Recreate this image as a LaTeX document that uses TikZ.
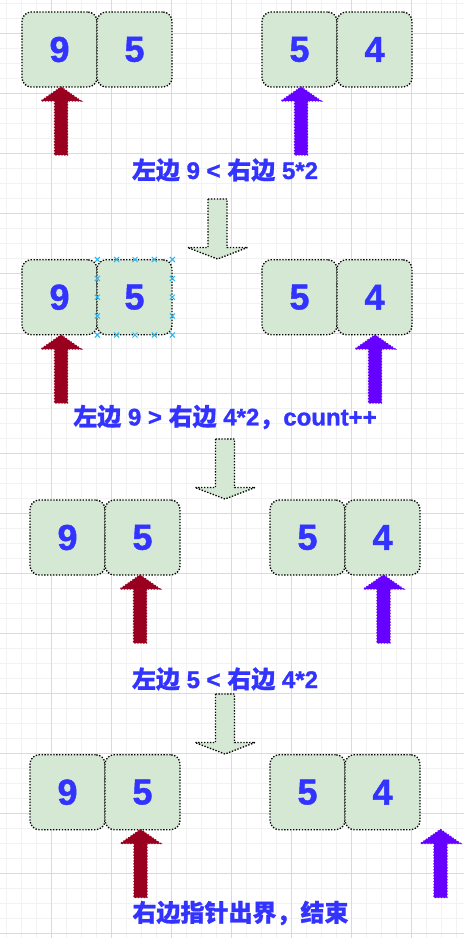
\documentclass[tikz,border=0pt]{standalone}
\usepackage{fontspec}
\setmainfont{Liberation Sans}[BoldFeatures={FakeBold=1.2}]
\newfontfamily\cjk{Noto Sans CJK SC}[BoldFeatures={FakeBold=0.8}]
\usetikzlibrary{positioning}
\definecolor{cellfill}{HTML}{D5E8D4}
\definecolor{txtblue}{HTML}{3333FF}
\definecolor{ptrred}{HTML}{99001F}
\definecolor{ptrpurple}{HTML}{6600FF}
\definecolor{gridmajor}{HTML}{DADADA}
\definecolor{gridminor}{HTML}{F2F2F2}
\definecolor{handle}{HTML}{29B6F2}
\tikzset{
  dots/.style={line width=1pt, dash pattern=on 1pt off 1.2pt},
  cell/.style={dots, draw=black, fill=cellfill, rounded corners=7pt,
    minimum width=56.25pt, minimum height=56.25pt, inner sep=0pt, outer sep=0pt,
    text=txtblue, font=\fontsize{27}{27}\selectfont\bfseries},
  msg/.style={text=txtblue, inner sep=0pt, font=\fontsize{18}{18}\selectfont\bfseries},
  ptrL/.style={dots, draw=ptrred, fill=ptrred},
  ptrR/.style={dots, draw=ptrpurple, fill=ptrpurple},
  downarr/.style={dots, draw=black, fill=cellfill},
  % pics are drawn with y pointing up
  uparr/.pic={\path[pic actions] (0,0) -- (20,-14) -- (6.5,-14) -- (6.5,-68) -- (-6.5,-68) -- (-6.5,-14) -- (-20,-14) -- cycle;},
  downblk/.pic={\path[pic actions] (-9.5,0) -- (9.5,0) -- (9.5,-48.5) -- (30,-48.5) -- (0,-60) -- (-30,-48.5) -- (-9.5,-48.5) -- cycle;},
}
\begin{document}
\begin{tikzpicture}[x=0.75pt,y=0.75pt,yscale=-1,xscale=1]
\useasboundingbox (0,0) rectangle (464,938);
\fill[white] (0,0) rectangle (464,938);

% grid
\foreach \gx in {0,...,30} \draw[gridminor, line width=0.75pt] ({6.7+15*\gx},0) -- ({6.7+15*\gx},938);
\foreach \gy in {0,...,62} \draw[gridminor, line width=0.75pt] (0,{3.3+15*\gy}) -- (464,{3.3+15*\gy});
\foreach \gx in {0,...,6} \draw[gridmajor, line width=0.75pt] ({51.7+60*\gx},0) -- ({51.7+60*\gx},938);
\foreach \gy in {0,...,15} \draw[gridmajor, line width=0.75pt] (0,{33.3+60*\gy}) -- (464,{33.3+60*\gy});

% step 1
\node[cell] (a1) at (59.5,49.5) {9};
\node[cell, right=0pt of a1] (b1) {5};
\node[cell] (c1) at (299.5,49.5) {5};
\node[cell, right=0pt of c1] (d1) {4};
\pic[ptrL] at (61,87) {uparr};
\pic[ptrR] at (301,87) {uparr};
\node[msg] (t1) at (225,170) {{\cjk 左边} 9 < {\cjk 右边} 5*2};
\pic[downarr] at (217.5,199) {downblk};

% step 2
\node[cell] (a2) at (59.5,297.2) {9};
\node[cell, right=0pt of a2] (b2) {5};
\node[cell] (c2) at (299.5,297.2) {5};
\node[cell, right=0pt of c2] (d2) {4};
\foreach \hx in {97.3,116.6,135,154.3,172.3}
  \foreach \hy in {259.5,335}
    \draw[handle, line width=0.75pt] (\hx-2.5,\hy-2.5) -- (\hx+2.5,\hy+2.5) (\hx-2.5,\hy+2.5) -- (\hx+2.5,\hy-2.5);
\foreach \hx in {97.3,172.3}
  \foreach \hy in {278.5,297.2,316}
    \draw[handle, line width=0.75pt] (\hx-2.5,\hy-2.5) -- (\hx+2.5,\hy+2.5) (\hx-2.5,\hy+2.5) -- (\hx+2.5,\hy-2.5);
\pic[ptrL] at (61,335) {uparr};
\pic[ptrR] at (375,335) {uparr};
\node[msg] (t2) at (225,417) {{\cjk 左边} 9 > {\cjk 右边} 4*2{\cjk ，}count++};
\pic[downarr] at (225,439) {downblk};

% step 3
\node[cell] (a3) at (67.5,537.5) {9};
\node[cell, right=0pt of a3] (b3) {5};
\node[cell] (c3) at (307.5,537.5) {5};
\node[cell, right=0pt of c3] (d3) {4};
\pic[ptrL] at (140,575) {uparr};
\pic[ptrR] at (383.5,575) {uparr};
\node[msg] (t3) at (225,679) {{\cjk 左边} 5 < {\cjk 右边} 4*2};
\pic[downarr] at (225,694) {downblk};

% step 4
\node[cell] (a4) at (67.5,792.2) {9};
\node[cell, right=0pt of a4] (b4) {5};
\node[cell] (c4) at (307.5,792.2) {5};
\node[cell, right=0pt of c4] (d4) {4};
\pic[ptrL] at (140.5,829.5) {uparr};
\pic[ptrR] at (440.5,829.5) {uparr};
\node[msg] (t4) at (240.5,913) {\cjk 右边指针出界，结束};

\end{tikzpicture}
\end{document}
